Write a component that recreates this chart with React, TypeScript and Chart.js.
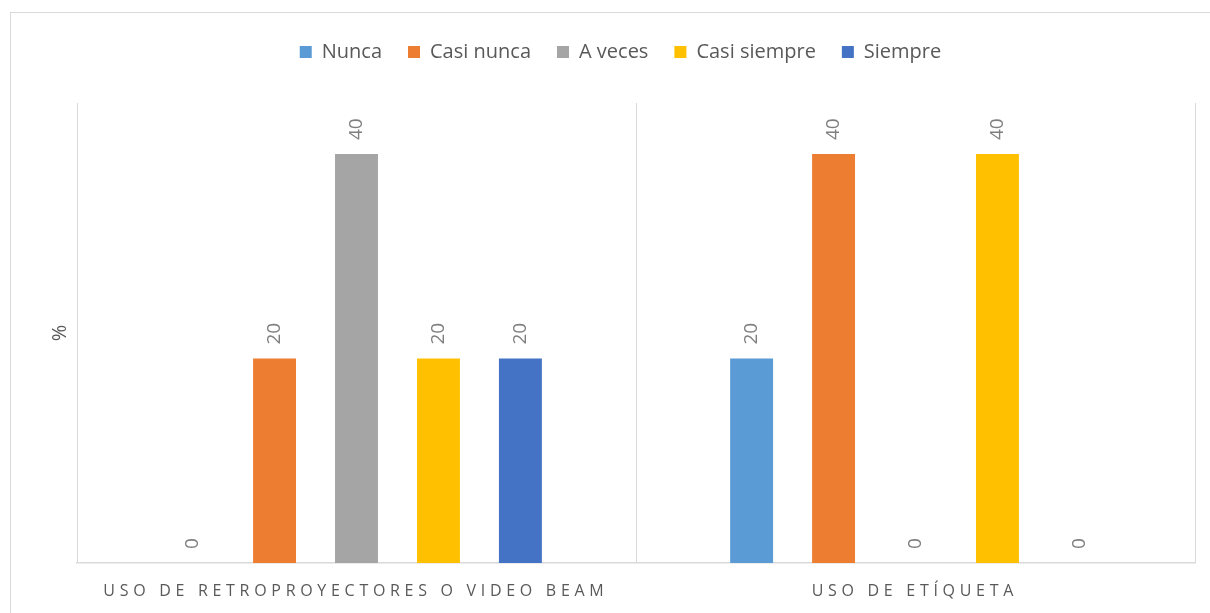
import React, { useEffect, useRef } from "react";
import { Chart, registerables } from "chart.js";

Chart.register(...registerables);

const categories = ["USO DE RETROPROYECTORES O VIDEO BEAM", "USO DE ETÍQUETA"];
const seriesNames = ["Nunca", "Casi nunca", "A veces", "Casi siempre", "Siempre"];
const nunca = [0, 20];
const casiNunca = [20, 40];
const aVeces = [40, 0];
const casiSiempre = [20, 40];
const siempre = [20, 0];
const seriesColors = ["#5B9BD5", "#ED7D31", "#A5A5A5", "#FFC000", "#4472C4"];
const yAxisTitle = "%";

const FONT = "'Open Sans', sans-serif";

const legendMargin = {
  id: "legendMargin",
  beforeInit(chart: any) {
    const origFit = chart.legend.fit;
    chart.legend.fit = function () {
      origFit.bind(chart.legend)();
      this.height += 31;
    };
  },
};

const dataLabels = {
  id: "dataLabels",
  afterDatasetsDraw(chart: any) {
    const ctx = chart.ctx;
    ctx.save();
    ctx.fillStyle = "#7F7F7F";
    ctx.font = `19px ${FONT}`;
    ctx.textAlign = "left";
    ctx.textBaseline = "middle";
    chart.data.datasets.forEach((ds: any, di: number) => {
      const meta = chart.getDatasetMeta(di);
      meta.data.forEach((el: any, i: number) => {
        const v = ds.data[i];
        ctx.save();
        ctx.translate(el.x, el.y - 14);
        ctx.rotate(-Math.PI / 2);
        ctx.fillText(String(v), 0, 0);
        ctx.restore();
      });
    });
    ctx.restore();
  },
};

const xLabels = {
  id: "xLabels",
  afterDraw(chart: any) {
    const ctx = chart.ctx;
    const xs = chart.scales.x;
    ctx.save();
    ctx.fillStyle = "#595959";
    ctx.font = `16px ${FONT}`;
    const spacing = 4.7;
    (ctx as any).letterSpacing = `${spacing}px`;
    ctx.textAlign = "left";
    ctx.textBaseline = "middle";
    categories.forEach((c, i) => {
      const x = xs.getPixelForValue(i);
      const w = ctx.measureText(c).width - spacing;
      ctx.fillText(c, x - w / 2 - 3, chart.chartArea.bottom + 28);
    });
    ctx.restore();
  },
};

export default function App() {
  const ref = useRef<HTMLCanvasElement | null>(null);
  useEffect(() => {
    if (!ref.current) return;
    const values = [nunca, casiNunca, aVeces, casiSiempre, siempre];
    const chart = new Chart(ref.current, {
      type: "bar",
      data: {
        labels: categories,
        datasets: seriesNames.map((n, i) => ({
          label: n,
          data: values[i],
          backgroundColor: seriesColors[i],
          borderWidth: 0,
          categoryPercentage: 0.733,
          barPercentage: 0.524,
        })),
      },
      options: {
        animation: false,
        responsive: true,
        maintainAspectRatio: false,
        layout: { padding: { top: 3, left: 35, right: 16, bottom: 0 } },
        plugins: {
          legend: {
            position: "top",
            labels: {
              boxWidth: 12,
              boxHeight: 12,
              padding: 26,
              color: "#595959",
              font: { family: FONT, size: 20 },
            },
          },
          tooltip: { enabled: false },
        },
        scales: {
          x: {
            grid: { color: "#D9D9D9", offset: true, drawTicks: false, lineWidth: 1 },
            border: { color: "#D9D9D9", width: 1.5 },
            ticks: { display: false },
            afterFit(scale: any) {
              scale.height = 50;
            },
          },
          y: {
            min: 0,
            max: 45,
            grid: { display: false },
            border: { display: false },
            ticks: { display: false },
            title: {
              display: true,
              text: yAxisTitle,
              color: "#595959",
              font: { family: FONT, size: 20 },
              padding: { top: 2, bottom: 0 },
            },
            afterFit(scale: any) {
              scale.width = 31;
            },
          },
        },
      },
      plugins: [legendMargin, dataLabels, xLabels],
    });
    return () => chart.destroy();
  }, []);
  return (
    <div
      style={{
        position: "fixed",
        left: 10,
        top: 12,
        width: 1200,
        height: 600,
        border: "1px solid #D9D9D9",
        background: "#fff",
      }}
    >
      <canvas ref={ref} />
    </div>
  );
}
